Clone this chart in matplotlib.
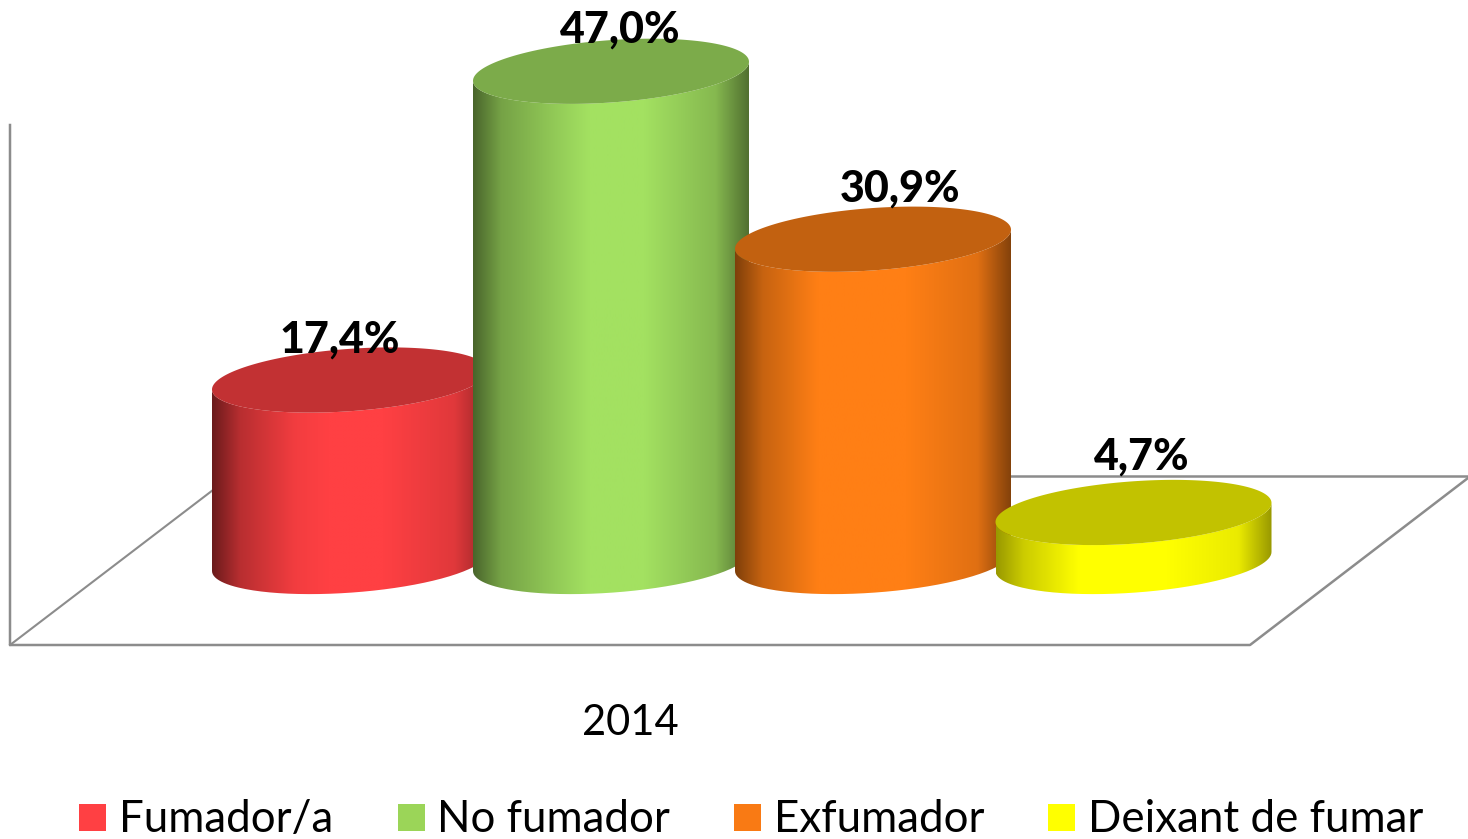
import numpy as np
import matplotlib
matplotlib.use("Agg")
import matplotlib.pyplot as plt
from matplotlib.patches import PathPatch, Rectangle, Polygon
from matplotlib.path import Path
from matplotlib.colors import to_rgb

plt.rcParams['font.family'] = ['Lato', 'DejaVu Sans']

categories = ["Fumador/a", "No fumador", "Exfumador", "Deixant de fumar"]
values = [17.4, 47.0, 30.9, 4.7]
labels = ["17,4%", "47,0%", "30,9%", "4,7%"]
year = "2014"
colors = ["#FF4043", "#A3E161", "#FF7F15", "#FFFF00"]
legend_colors = ["#FF4043", "#9BD558", "#F97A14", "#FFFF00"]

# layout, in pixels of the picture
W, H = 1468, 839
px_per_pct = 10.43
base_cy = 561.5
centers = [350, 611, 873, 1133.5]
rx = 138
ry = 31.2
skew = 9.5
label_dx = [-10, 9, 27, 8]
label_dy = [-40, -42, -51, -56]
legend_x = [79, 398, 734, 1048]
text_x = [119, 437, 774, 1088]
# brightness across a cylinder, one curve per series
shade_stops = [0, 0.1, 0.3, 0.42, 0.62, 0.88, 1]
shade_vals = [[0.42, 0.72, 0.95, 1, 1, 0.88, 0.6],
              [0.45, 0.72, 0.9, 1, 1, 0.82, 0.5],
              [0.5, 0.78, 1, 1, 1, 0.88, 0.52],
              [0.6, 0.8, 1, 1, 1, 0.92, 0.6]]


def ellipse_xy(cx, cy, t):
    return cx + rx * np.cos(t), cy + ry * np.sin(t) - skew * np.cos(t)


def shade(color, pos, vals):
    rgb = np.array(to_rgb(color))
    return np.outer(np.interp(pos, shade_stops, vals), rgb)


fig = plt.figure(figsize=(W / 100, H / 100), dpi=100)
ax = fig.add_axes([0, 0, 1, 1])

# walls and floor
grey = "#8c8c8c"
ax.plot([10, 10, 1250, 1468], [125, 645, 645, 478], color=grey, lw=1.8, zorder=1)
ax.plot([10, 213], [645, 490], color=grey, lw=1.5, zorder=1)
ax.plot([1000, 1468], [476, 476], color=grey, lw=1.8, zorder=1)

for i, v in enumerate(values):
    cx = centers[i]
    top_cy = base_cy - v * px_per_pct
    z = 2 + i
    # body: lower half of the base plus the sides, up to the top ellipse
    t_low = np.linspace(np.pi, 0, 120)
    bx, by = ellipse_xy(cx, base_cy, t_low)
    t_up = np.linspace(0, np.pi, 120)
    tx, ty = ellipse_xy(cx, top_cy, t_up)
    verts = np.column_stack([np.r_[bx, tx], np.r_[by, ty]])
    clip = PathPatch(Path(np.vstack([verts, verts[0]])), fc="none", ec="none",
                     transform=ax.transData)
    ax.add_patch(clip)
    grad = shade(colors[i], np.linspace(0, 1, 256), shade_vals[i]).reshape(1, 256, 3)
    im = ax.imshow(grad, extent=[cx - rx, cx + rx, base_cy + 40, top_cy - 40],
                   aspect="auto", zorder=z, interpolation="bilinear")
    im.set_clip_path(clip)
    # top face
    t = np.linspace(0, 2 * np.pi, 240)
    ex, ey = ellipse_xy(cx, top_cy, t)
    top_col = tuple(c * 0.76 for c in to_rgb(colors[i]))
    ax.add_patch(Polygon(np.column_stack([ex, ey]), closed=True, fc=top_col, ec="none", zorder=z + 0.5))

for i, lab in enumerate(labels):
    top_cy = base_cy - values[i] * px_per_pct
    ax.text(centers[i] + label_dx[i], top_cy + label_dy[i], lab, fontsize=31, fontweight=900,
            ha="center", va="center", color="black", zorder=10)

ax.text(630, 723, year, fontsize=30, ha="center", va="center", color="black")

for i, name in enumerate(categories):
    ax.add_patch(Rectangle((legend_x[i], 804), 27, 27, fc=legend_colors[i], ec="none"))
    ax.text(text_x[i], 820, name, fontsize=31.6, ha="left", va="center", color="black")

ax.set_xlim(0, W)
ax.set_ylim(H, 0)
ax.axis("off")
fig.savefig("out.png", dpi=100, facecolor="white")
